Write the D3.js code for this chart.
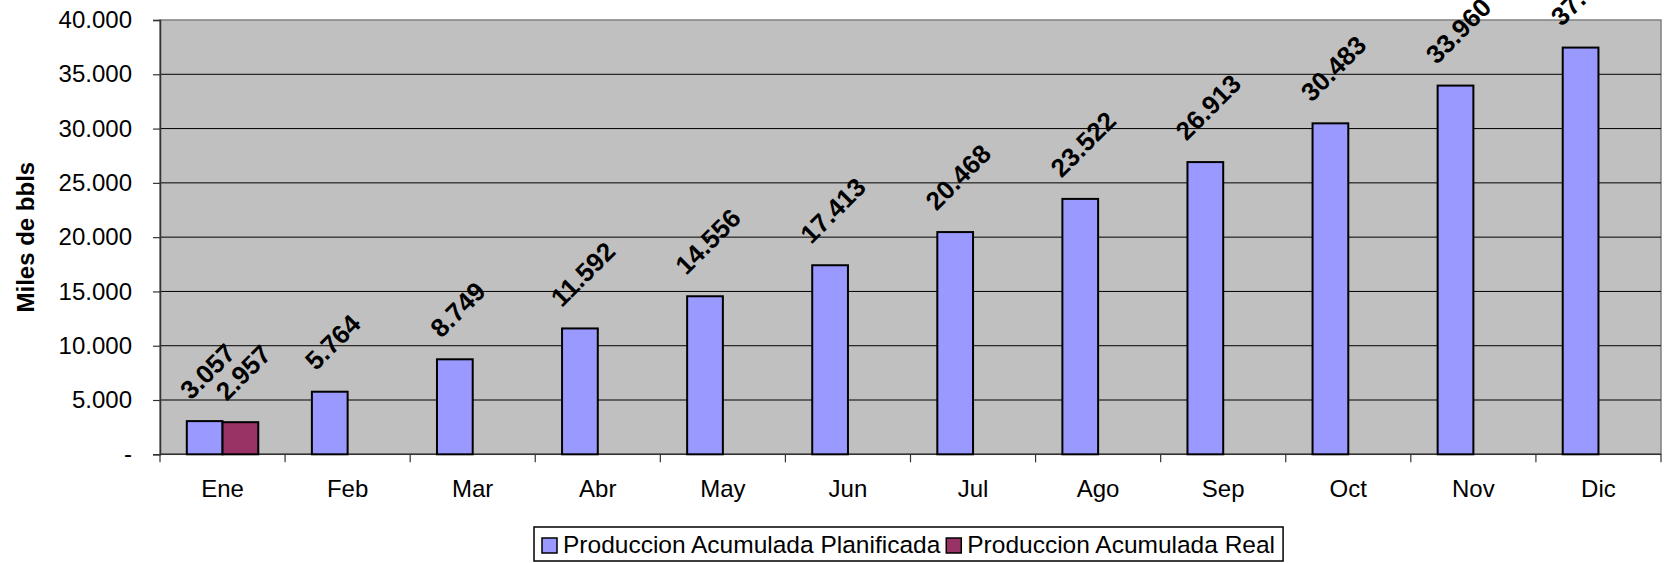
<!DOCTYPE html>
<html>
<head>
<meta charset="utf-8">
<script src="https://cdn.jsdelivr.net/npm/d3@7"></script>
<style>
  html, body { margin: 0; padding: 0; background: #fff; }
  svg { display: block; }
  text { font-family: Arial, "Liberation Sans", sans-serif; fill: #000; }
</style>
</head>
<body>
<svg id="chart" width="1673" height="563"></svg>
<script>
const months = ["Ene","Feb","Mar","Abr","May","Jun","Jul","Ago","Sep","Oct","Nov","Dic"];
const seriesNames = ["Produccion Acumulada Planificada","Produccion Acumulada Real"];
const planificada = [3057,5764,8749,11592,14556,17413,20468,23522,26913,30483,33960,37460];
const real = [2957,null,null,null,null,null,null,null,null,null,null,null];
const yTicks = [0,5000,10000,15000,20000,25000,30000,35000,40000];
const colors = ["#9999FF","#993366"];

const W = 1673, H = 563;
const m = {left:160, right:12, top:20, bottom:108.7};
const svg = d3.select("#chart");

const loc = d3.formatLocale({decimal:",", thousands:".", grouping:[3], currency:["",""]});
const fmt = loc.format(",.0f");
const tickFmt = v => v === 0 ? "-" : fmt(v);

const x = d3.scaleBand().domain(months).range([m.left, W - m.right]).padding(0);
const bw = x.bandwidth() / 3.5;
const xs = d3.scaleBand().domain(seriesNames).range([0, 2 * bw]).padding(0);
const off = (x.bandwidth() - 2 * bw) / 2;
const y = d3.scaleLinear().domain([0, 40000]).range([H - m.bottom, m.top]);

// plot background
svg.append("rect")
  .attr("x", m.left).attr("y", m.top)
  .attr("width", W - m.left - m.right).attr("height", y(0) - m.top)
  .attr("fill", "#C0C0C0").attr("stroke", "#808080").attr("stroke-width", 1.5);

// gridlines
svg.append("g").selectAll("line").data(yTicks.filter(d => d > 0 && d < 40000)).join("line")
  .attr("x1", m.left).attr("x2", W - m.right)
  .attr("y1", d => y(d)).attr("y2", d => y(d))
  .attr("stroke", "#000").attr("stroke-width", 1);

// y axis
const yAxis = svg.append("g").attr("transform", `translate(${m.left},0)`)
  .call(d3.axisLeft(y).tickValues(yTicks).tickFormat(tickFmt).tickSize(7).tickPadding(21));
yAxis.select(".domain").attr("stroke", "#333").attr("stroke-width", 1.5);
yAxis.selectAll(".tick line").attr("stroke", "#333").attr("stroke-width", 1.2);
yAxis.selectAll(".tick text").attr("font-size", 24).attr("fill", "#000")
  .attr("font-family", 'Arial, "Liberation Sans", sans-serif');

// x axis with ticks at category boundaries
const xAxisG = svg.append("g").attr("transform", `translate(0,${y(0)})`);
xAxisG.append("line").attr("x1", m.left).attr("x2", W - m.right)
  .attr("stroke", "#333").attr("stroke-width", 1.5);
const bounds = months.map(d => x(d)).concat([x(months[months.length - 1]) + x.bandwidth()]);
xAxisG.selectAll("line.tk").data(bounds).join("line").attr("class", "tk")
  .attr("x1", d => d).attr("x2", d => d).attr("y1", 0).attr("y2", 8)
  .attr("stroke", "#333").attr("stroke-width", 1.2);
xAxisG.selectAll("text").data(months).join("text")
  .attr("x", d => x(d) + x.bandwidth() / 2).attr("y", 43)
  .attr("text-anchor", "middle").attr("font-size", 24).text(d => d);

// bars
const data = [];
months.forEach((mo, i) => {
  [planificada, real].forEach((arr, s) => {
    if (arr[i] != null) data.push({mo, s, v: arr[i]});
  });
});
svg.append("g").selectAll("rect").data(data).join("rect")
  .attr("x", d => x(d.mo) + off + xs(seriesNames[d.s]))
  .attr("y", d => y(d.v))
  .attr("width", xs.bandwidth())
  .attr("height", d => y(0) - y(d.v))
  .attr("fill", d => colors[d.s])
  .attr("stroke", "#000").attr("stroke-width", 2);

// rotated data labels
const lblG = svg.append("g");
const lblSize = 26;
data.forEach(d => {
  const cx = x(d.mo) + off + xs(seriesNames[d.s]) + xs.bandwidth() / 2 + 3;
  const t = lblG.append("text")
    .attr("font-size", lblSize).attr("font-weight", "bold")
    .attr("text-anchor", "middle").attr("dominant-baseline", "central")
    .text(fmt(d.v));
  const L = t.node().getComputedTextLength();
  const h = lblSize * 0.72;
  const half = (L + h) / (2 * Math.SQRT2);
  const cy = y(d.v) - 20 - half;
  t.attr("transform", `translate(${cx},${cy}) rotate(-45)`);
});

// y title
svg.append("text")
  .attr("transform", `translate(34,${(m.top + y(0)) / 2}) rotate(-90)`)
  .attr("text-anchor", "middle").attr("font-size", 24).attr("font-weight", "bold")
  .text("Miles de bbls");

// legend
const lg = svg.append("g");
const box = lg.append("rect").attr("x", 534).attr("y", 527).attr("height", 34)
  .attr("fill", "#fff").attr("stroke", "#000").attr("stroke-width", 1.5);
let lx = 542;
seriesNames.forEach((name, i) => {
  lg.append("rect").attr("x", lx).attr("y", 538).attr("width", 15).attr("height", 15)
    .attr("fill", colors[i]).attr("stroke", "#000").attr("stroke-width", 1.5);
  const t = lg.append("text").attr("x", lx + 21).attr("y", 553)
    .attr("font-size", 24.5).text(name);
  lx = lx + 21 + t.node().getComputedTextLength() + 6;
});
box.attr("width", lx - 534 + 2);
</script>
</body>
</html>
